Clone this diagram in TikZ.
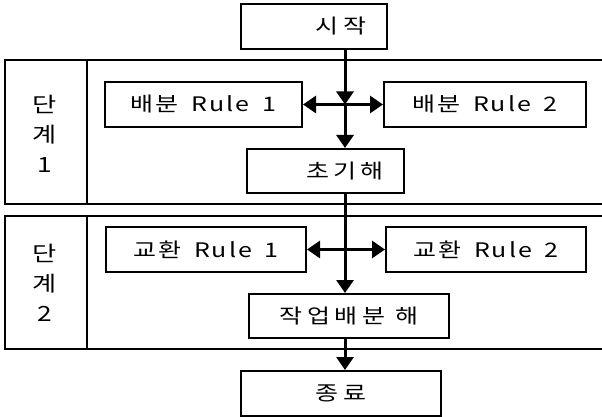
\documentclass[tikz,border=0pt]{standalone}
\usepackage{fontspec}
\newfontfamily\kr{Noto Sans CJK KR}[FakeStretch=1.25,LetterSpace=10]
\newfontfamily\krw{Noto Sans CJK KR}[FakeStretch=1.25,LetterSpace=22]
\newcommand{\wgap}{\hspace{5pt}}
\usetikzlibrary{arrows.meta}
\begin{document}
\begin{tikzpicture}[x=1pt,y=-1pt,
  box/.style={draw, line width=2pt, minimum height=45pt, inner sep=0pt,
              font=\kr\fontsize{20}{30}\selectfont},
  wbox/.style={box, font=\krw\fontsize{20}{30}\selectfont},
  frame/.style={draw, line width=2pt},
  arr/.style={line width=3pt, -{Triangle[length=13pt,width=17pt]}},
  lbl/.style={align=center, inner sep=0pt, font=\kr\fontsize{21}{30}\selectfont}]
\useasboundingbox (0,0) rectangle (602,417);
\clip (0,0) rectangle (602,417);
% stage frames
\draw[frame] (5,60) rectangle (610,204);
\draw[frame] (87,60) -- (87,204);
\draw[frame] (5,216) rectangle (610,349);
\draw[frame] (87,216) -- (87,349);
\node[lbl] (st1) at (45,134) {단\\계\\1};
\node[lbl] (st2) at (45,283) {단\\계\\2};
% boxes
\node[wbox, minimum width=146pt] (start) at (314,26.5) {\hspace*{54pt}시작};
\node[box, minimum width=197pt] (R1) at (203.5,104.5) {배분 \wgap{}Rule \wgap{}1};
\node[box, minimum width=202pt] (R2) at (485,104.5) {배분 \wgap{}Rule \wgap{}2};
\node[wbox, minimum width=157pt, minimum height=44pt] (init) at (325.5,171) {\hspace*{39pt}초기해};
\node[box, minimum width=200pt] (E1) at (206,249.5) {교환 \wgap{}Rule \wgap{}1};
\node[box, minimum width=200pt] (E2) at (486,249.5) {교환 \wgap{}Rule \wgap{}2};
\node[wbox, minimum width=200pt, minimum height=44pt] (sol) at (349,316) {작업배분 해};
\node[wbox, minimum width=200pt] (end) at (341,393.5) {종료};
% junctions
\coordinate (j1) at (345,104.5);
\coordinate (j2) at (345,249.5);
% connectors
\draw[arr] (start.south -| j1) -- (j1);
\draw[arr] (j1) -- (init.north -| j1);
\draw[arr] (j1) -- (R1.east);
\draw[arr] (j1) -- (R2.west);
\draw[arr] (init.south -| j2) -- (sol.north -| j2);
\draw[arr] (j2) -- (E1.east);
\draw[arr] (j2) -- (E2.west);
\draw[arr] (sol.south -| j2) -- (end.north -| j2);
\end{tikzpicture}
\end{document}
